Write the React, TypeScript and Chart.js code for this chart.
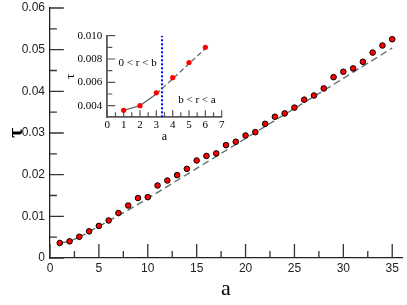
import { useEffect, useRef } from 'react';
import { Chart, registerables } from 'chart.js';

Chart.register(...registerables);

// ---- main data ----
const aValues = [1, 2, 3, 4, 5, 6, 7, 8, 9, 10, 11, 12, 13, 14, 15, 16, 17, 18, 19, 20, 21, 22, 23, 24, 25, 26, 27, 28, 29, 30, 31, 32, 33, 34, 35];
const tauValues = [0.0036, 0.0040, 0.0051, 0.0064, 0.0077, 0.0090, 0.0108, 0.0126, 0.0144, 0.0146, 0.0174, 0.0186, 0.0199, 0.0214, 0.0234, 0.0245, 0.0251, 0.0271, 0.0279, 0.0294, 0.0302, 0.0322, 0.0339, 0.0347, 0.0361, 0.0380, 0.0390, 0.0407, 0.0434, 0.0447, 0.0455, 0.0471, 0.0493, 0.0510, 0.0525];
const fitA = [1, 2, 3, 4, 5, 6, 8, 10, 15, 20, 25, 30, 35];
const fitTau = [0.0036, 0.0040, 0.0050, 0.0063, 0.0076, 0.0089, 0.0115, 0.0143, 0.0215, 0.0287, 0.0359, 0.0431, 0.0504];
const mainXTicks = [0, 5, 10, 15, 20, 25, 30, 35];
const mainYTicks = [0, 0.01, 0.02, 0.03, 0.04, 0.05, 0.06];

// ---- inset data ----
const insetA = [1, 2, 3, 4, 5, 6];
const insetTau = [0.0036, 0.0040, 0.0051, 0.0064, 0.0077, 0.0090];
const insetFitA = [1, 2, 3, 4, 5, 6];
const insetFitTau = [0.0036, 0.0040, 0.0050, 0.0063, 0.0076, 0.0089];
const boundaryA = 3.35;
const boundaryTau = [0.003, 0.010];
const insetXTicks = [0, 1, 2, 3, 4, 5, 6, 7];
const insetYTicks = [0.004, 0.006, 0.008, 0.010];
const regionLabels = ['0 < r < b', 'b < r < a'];
const regionLabelA = [0.69, 4.34];
const regionLabelTau = [0.00765, 0.00448];

// ---- layout (pixels) ----
const MAIN = { w: 407, h: 305, left: 50, top: 8, bottom: 258, right: 407, xMin: 0, xMax: 36, yMin: 0, yMax: 0.06 };
const INSET = { x: 55, y: 25, w: 175, h: 120, left: 52.3, top: 10.7, bottom: 92.3, right: 166.7, xMin: 0, xMax: 7, yMin: 0.003, yMax: 0.010 };

const midpoints = (arr: number[]) => {
  const out: number[] = [];
  for (let i = 0; i < arr.length - 1; i++) out.push((arr[i] + arr[i + 1]) / 2);
  return out;
};

type Box = typeof MAIN;
// inward tick marks as short line segments, lengths given in pixels and converted to axis units
const xTickSegs = (values: number[], lenPx: number, b: { top: number; bottom: number; yMin: number; yMax: number }) => {
  const len = (lenPx * (b.yMax - b.yMin)) / (b.bottom - b.top);
  const pts: any[] = [];
  values.forEach((v) => {
    pts.push({ x: v, y: b.yMin }, { x: v, y: b.yMin + len }, { x: v, y: null });
  });
  return pts;
};
const yTickSegs = (values: number[], lenPx: number, b: { left: number; right: number; xMin: number; xMax: number }) => {
  const len = (lenPx * (b.xMax - b.xMin)) / (b.right - b.left);
  const pts: any[] = [];
  values.forEach((v) => {
    pts.push({ x: b.xMin, y: v }, { x: b.xMin + len, y: v }, { x: null, y: v });
  });
  return pts;
};
const tickDataset = (data: any[], color: string, width: number) => ({
  data,
  showLine: true,
  spanGaps: false,
  pointRadius: 0,
  borderColor: color,
  borderWidth: width,
  clip: false as any,
});

const makeTextPlugin = (labels: string[], xs: number[], ys: number[], font: string, color: string) => ({
  id: 'regionText',
  afterDatasetsDraw(chart: any) {
    const { ctx } = chart;
    const sx = chart.scales.x;
    const sy = chart.scales.y;
    ctx.save();
    ctx.font = font;
    ctx.fillStyle = color;
    ctx.textAlign = 'left';
    ctx.textBaseline = 'middle';
    labels.forEach((t, i) => {
      ctx.fillText(t, sx.getPixelForValue(xs[i]), sy.getPixelForValue(ys[i]));
    });
    ctx.restore();
  },
});

const fixX = (h: number) => (s: any) => { s.height = h; s.paddingLeft = 0; s.paddingRight = 0; };
const fixY = (w: number) => (s: any) => { s.width = w; s.paddingTop = 0; s.paddingBottom = 0; };

const SANS = "'Liberation Sans', Arial, sans-serif";
const SERIF = "'Liberation Serif', 'Times New Roman', serif";

function MainChart() {
  const ref = useRef<HTMLCanvasElement>(null);
  useEffect(() => {
    const b: Box = MAIN;
    const chart = new Chart(ref.current!, {
      type: 'scatter',
      data: {
        datasets: [
          {
            data: aValues.map((a, i) => ({ x: a, y: tauValues[i] })),
            showLine: false,
            pointRadius: 2.8,
            pointBackgroundColor: '#ff0000',
            pointBorderColor: '#000000',
            pointBorderWidth: 1,
          },
          {
            data: fitA.map((a, i) => ({ x: a, y: fitTau[i] })),
            showLine: true,
            pointRadius: 0,
            borderColor: '#5f6f6f',
            borderWidth: 1.4,
            borderDash: [],
            segment: { borderDash: (c: any) => (c.p0.parsed.x >= 3 ? [7, 4] : undefined) },
          } as any,
          tickDataset(xTickSegs(mainXTicks, 14, b), '#333', 1.3),
          tickDataset(xTickSegs(midpoints(mainXTicks), 7, b), '#333', 1.3),
          tickDataset(yTickSegs(mainYTicks, 14, b), '#333', 1.3),
          tickDataset(yTickSegs(midpoints(mainYTicks), 7, b), '#333', 1.3),
        ] as any,
      },
      options: {
        animation: false,
        responsive: false,
        events: [],
        layout: { padding: { top: b.top, left: 0, right: b.w - b.right, bottom: 0 } },
        plugins: {
          legend: { display: false },
          tooltip: { enabled: false },
        },
        scales: {
          x: {
            type: 'linear',
            min: b.xMin,
            max: b.xMax,
            grid: { display: false, drawTicks: false },
            border: { display: true, color: '#222', width: 1.3 },
            afterBuildTicks: (s: any) => { s.ticks = mainXTicks.map((v) => ({ value: v })); },
            afterFit: fixX(b.h - b.bottom),
            ticks: { padding: 3, maxRotation: 0, autoSkip: false, color: '#222', font: { family: SANS, size: 12 }, callback: (v: any) => String(v) },
            title: { display: true, text: 'a', color: '#000', font: { family: SERIF, size: 22 }, padding: { top: 0, bottom: 3 } },
          },
          y: {
            type: 'linear',
            min: b.yMin,
            max: b.yMax,
            grid: { display: false, drawTicks: false },
            border: { display: true, color: '#222', width: 1.3 },
            afterBuildTicks: (s: any) => { s.ticks = mainYTicks.map((v) => ({ value: v })); },
            afterFit: fixY(b.left),
            ticks: { padding: 5, autoSkip: false, color: '#222', font: { family: SANS, size: 12 }, callback: (v: any) => (Number(v) === 0 ? '0' : Number(v).toFixed(2)) },
            title: { display: true, text: 'τ', color: '#000', font: { family: SERIF, size: 22, weight: 'bold' }, padding: { top: 3, bottom: 0 } },
          },
        },
      },
    });
    return () => chart.destroy();
  }, []);
  return <canvas ref={ref} width={MAIN.w} height={MAIN.h} style={{ position: 'absolute', left: 0, top: 0, display: 'block' }} />;
}

function InsetChart() {
  const ref = useRef<HTMLCanvasElement>(null);
  useEffect(() => {
    const b = INSET;
    const textPlugin = makeTextPlugin(regionLabels, regionLabelA, regionLabelTau, `11px ${SERIF}`, '#000');
    const chart = new Chart(ref.current!, {
      type: 'scatter',
      data: {
        datasets: [
          {
            data: insetA.map((a, i) => ({ x: a, y: insetTau[i] })),
            showLine: false,
            pointRadius: 2.6,
            pointBackgroundColor: '#ff0000',
            pointBorderColor: '#ff0000',
            pointBorderWidth: 0,
          },
          {
            data: insetFitA.map((a, i) => ({ x: a, y: insetFitTau[i] })),
            showLine: true,
            pointRadius: 0,
            borderColor: '#5f6f6f',
            borderWidth: 1.3,
            borderDash: [],
            segment: { borderDash: (c: any) => (c.p0.parsed.x >= 3 ? [5, 3] : undefined) },
          } as any,
          {
            data: boundaryTau.map((t) => ({ x: boundaryA, y: t })),
            showLine: true,
            pointRadius: 0,
            borderColor: '#0000ff',
            borderWidth: 2,
            borderDash: [2, 2],
          },
          tickDataset(xTickSegs(insetXTicks, 7, b), '#555', 1.2),
          tickDataset(xTickSegs(midpoints(insetXTicks), 5, b), '#555', 1.2),
          tickDataset(yTickSegs(insetYTicks, 8, b), '#555', 1.2),
          tickDataset(yTickSegs([0.005, 0.007, 0.009], 5, b), '#555', 1.2),
        ] as any,
      },
      options: {
        animation: false,
        responsive: false,
        events: [],
        layout: { padding: { top: b.top, left: 0, right: b.w - b.right, bottom: 0 } },
        plugins: {
          legend: { display: false },
          tooltip: { enabled: false },
        },
        scales: {
          x: {
            type: 'linear',
            min: b.xMin,
            max: b.xMax,
            grid: { display: false, drawTicks: false },
            border: { display: true, color: '#5a5a5a', width: 1.8 },
            afterBuildTicks: (s: any) => { s.ticks = insetXTicks.map((v) => ({ value: v })); },
            afterFit: fixX(b.h - b.bottom),
            ticks: { padding: 1, maxRotation: 0, autoSkip: false, color: '#000', font: { family: SERIF, size: 11 }, callback: (v: any) => String(v) },
            title: { display: true, text: 'a', color: '#000', font: { family: SERIF, size: 12 }, padding: { top: 0, bottom: 1 } },
          },
          y: {
            type: 'linear',
            min: b.yMin,
            max: b.yMax,
            grid: { display: false, drawTicks: false },
            border: { display: true, color: '#5a5a5a', width: 1.8 },
            afterBuildTicks: (s: any) => { s.ticks = insetYTicks.map((v) => ({ value: v })); },
            afterFit: fixY(b.left),
            ticks: { padding: 5, autoSkip: false, color: '#000', font: { family: SERIF, size: 11 }, callback: (v: any) => Number(v).toFixed(3) },
            title: { display: true, text: 'τ', color: '#000', font: { family: SERIF, size: 13 }, padding: { top: 8, bottom: 0 } },
          },
        },
      },
      plugins: [textPlugin],
    });
    return () => chart.destroy();
  }, []);
  return <canvas ref={ref} width={INSET.w} height={INSET.h} style={{ position: 'absolute', left: INSET.x, top: INSET.y, display: 'block' }} />;
}

export default function App() {
  return (
    <div style={{ position: 'absolute', left: 0, top: 0, width: MAIN.w, height: MAIN.h, background: '#fff', overflow: 'hidden' }}>
      <MainChart />
      <InsetChart />
    </div>
  );
}
